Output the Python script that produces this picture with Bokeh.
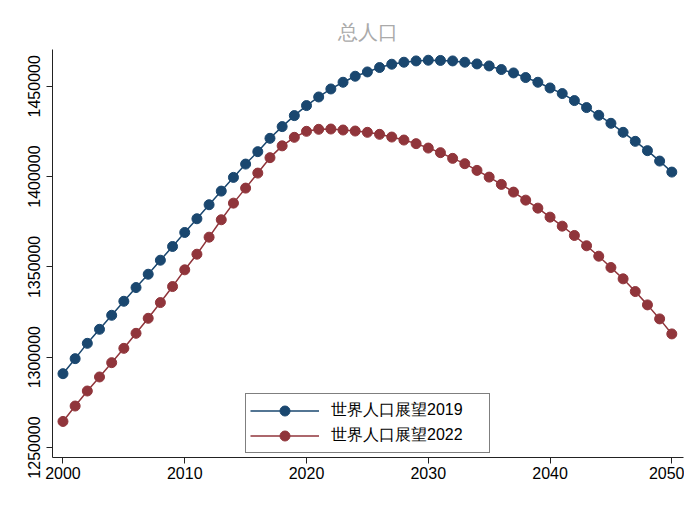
from bokeh.plotting import figure
from bokeh.models import Range1d, FixedTicker, BasicTickFormatter, Legend, LegendItem, Title
from bokeh.embed import file_html
from bokeh.resources import INLINE

years = list(range(2000, 2051))

pop_2019 = [
    1290867, 1299184, 1307668, 1315431, 1323194, 1330957, 1338554, 1345929, 1353692, 1361288,
    1369051, 1376648, 1384411, 1391952, 1399549, 1406924, 1413799, 1421174, 1427662, 1433761,
    1439306, 1444075, 1448511, 1452226, 1455553, 1457938, 1460377, 1462207, 1463316, 1464037,
    1464425, 1464300, 1464037, 1463316, 1462374, 1461265, 1459268, 1457383, 1454832, 1452226,
    1449066, 1445960, 1442079, 1438197, 1433928, 1429492, 1424501, 1419511, 1414354, 1408587,
    1402488,
]

pop_2022 = [
    1264417, 1272956, 1281274, 1289037, 1296966, 1304896, 1313213, 1321531, 1330236, 1339108,
    1348368, 1357019, 1366445, 1376093, 1385298, 1393616, 1401933, 1410472, 1417015, 1421729,
    1425055, 1426165, 1426330, 1425780, 1425220, 1424500, 1423390, 1421890, 1420230, 1418230,
    1415790, 1413240, 1410080, 1407140, 1403430, 1399710, 1395670, 1391400, 1386960, 1382530,
    1377540, 1372550, 1367390, 1361680, 1355910, 1349650, 1343380, 1336340, 1328960, 1321200,
    1312880,
]

title_text = "总人口"
label_2019 = "世界人口展望2019"
label_2022 = "世界人口展望2022"

x_ticks = [2000, 2010, 2020, 2030, 2040, 2050]
y_ticks = [1250000, 1300000, 1350000, 1400000, 1450000]

navy = "#1a476f"
maroon = "#90353b"
FONT = "Liberation Sans"

p = figure(width=684, height=494, output_backend="svg", toolbar_location=None,
           x_range=Range1d(1999.14, 2050.96), y_range=Range1d(1244455, 1470360),
           min_border_left=52, min_border_right=1, min_border_top=49, min_border_bottom=37)

p.title = Title(text=title_text, align="center", text_font=FONT, text_font_size="20px",
                text_font_style="normal", text_color="#aaaaaa", standoff=14)

p.xgrid.visible = False
p.ygrid.visible = False
p.outline_line_color = None
p.background_fill_color = "white"
p.border_fill_color = "white"

l1 = p.line(years, pop_2019, line_color=navy, line_width=1.5)
s1 = p.scatter(years, pop_2019, size=10, fill_color=navy, line_color=navy)
l2 = p.line(years, pop_2022, line_color=maroon, line_width=1.5)
s2 = p.scatter(years, pop_2022, size=10, fill_color=maroon, line_color=maroon)

for ax in (p.xaxis[0], p.yaxis[0]):
    ax.axis_line_color = "#222222"
    ax.axis_line_width = 1
    ax.major_tick_line_color = "#222222"
    ax.major_tick_out = 6
    ax.major_tick_in = 0
    ax.minor_tick_line_color = None
    ax.major_label_text_font = FONT
    ax.major_label_text_font_size = "16px"
    ax.major_label_text_color = "black"

p.xaxis[0].ticker = FixedTicker(ticks=x_ticks)
p.xaxis[0].major_label_standoff = 3
p.yaxis[0].ticker = FixedTicker(ticks=y_ticks)
p.yaxis[0].formatter = BasicTickFormatter(use_scientific=False)
p.yaxis[0].major_label_orientation = "vertical"
p.yaxis[0].major_label_standoff = 6

legend = Legend(items=[LegendItem(label=label_2019, renderers=[l1, s1]),
                       LegendItem(label=label_2022, renderers=[l2, s2])],
                location=(193, 4), orientation="vertical",
                padding=4, spacing=0, margin=0,
                glyph_width=69, glyph_height=25, label_height=25, label_width=154,
                label_standoff=12,
                label_text_font=FONT, label_text_font_size="16px", label_text_color="black",
                border_line_color="black", border_line_width=1,
                background_fill_color="white", background_fill_alpha=1)
p.add_layout(legend, "center")

open("out.html", "w").write(file_html(p, INLINE))
